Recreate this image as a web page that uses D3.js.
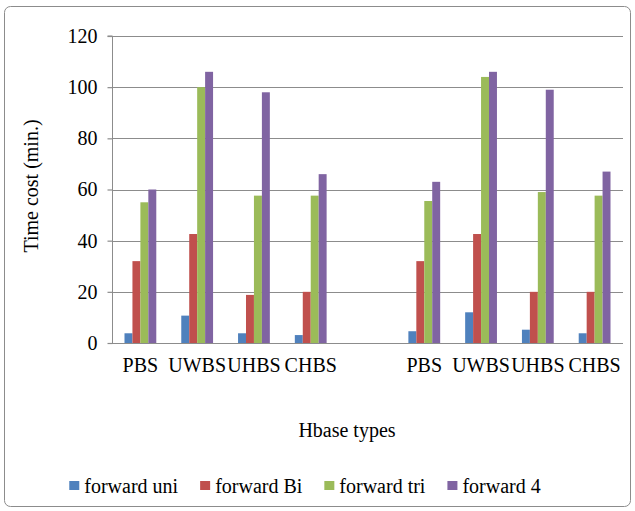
<!DOCTYPE html>
<html><head><meta charset="utf-8">
<script src="https://cdn.jsdelivr.net/npm/d3@7"></script>
<style>body{margin:0;background:#fff;}</style></head>
<body><svg id="c" width="635" height="511"></svg>
<script>
const categories = ["PBS","UWBS","UHBS","CHBS","","PBS","UWBS","UHBS","CHBS"];
const seriesNames = ["forward uni","forward Bi","forward tri","forward 4"];
const forwardUni = [3.8, 10.7, 3.8, 3.1, null, 4.6, 12, 5.2, 3.8];
const forwardBi  = [32, 42.6, 18.8, 20, null, 32, 42.6, 20, 20];
const forwardTri = [55, 100, 57.6, 57.6, null, 55.5, 104, 59, 57.6];
const forward4   = [60, 106, 98, 66, null, 63, 106, 99, 67];
const yTicks = [0,20,40,60,80,100,120];
const colors = ["#4F81BD","#C0504D","#9BBB59","#8064A2"];
const seriesValues = [forwardUni, forwardBi, forwardTri, forward4];

const FONT = '"Liberation Serif"';
const svg = d3.select("#c");
const fs = 20;
svg.append("rect").attr("x",4.5).attr("y",6.5).attr("width",626).attr("height",500)
  .attr("rx",6).attr("fill","#fff").attr("stroke","#8c8c8c").attr("stroke-width",1);

const L=112, R=623, T=36, B=343;
const idx = categories.map((d,i)=>i);
const x0 = d3.scaleBand().domain(idx).range([L,R]).paddingInner(0.44).paddingOuter(0.22);
const x1 = d3.scaleBand().domain(d3.range(seriesNames.length)).range([0,x0.bandwidth()]);
const y = d3.scaleLinear().domain([0,120]).range([B,T]);

// gridlines
svg.append("g").selectAll("line").data(yTicks.filter(t=>t>0)).join("line")
  .attr("x1",L).attr("x2",R).attr("y1",d=>Math.round(y(d))+0.5).attr("y2",d=>Math.round(y(d))+0.5)
  .attr("stroke","#8c8c8c").attr("stroke-width",1.2);

// bars
const g = svg.append("g");
seriesValues.forEach((vals,s)=>{
  g.selectAll(null).data(vals.map((v,i)=>({v,i})).filter(d=>d.v!=null)).join("rect")
    .attr("x",d=>x0(d.i)+x1(s)).attr("width",x1.bandwidth())
    .attr("y",d=>y(d.v)).attr("height",d=>B-y(d.v))
    .attr("fill",colors[s]);
});

// y axis
const yAxis = d3.axisLeft(y).tickValues(yTicks).tickSize(5).tickPadding(10);
const ya = svg.append("g").attr("transform",`translate(${L+0.5},0)`).call(yAxis);
ya.attr("font-family",null);
ya.selectAll("path,line").attr("stroke","#8c8c8c");
ya.select(".domain").attr("d",`M-5,${T}H0V${B}`);
ya.selectAll("text").attr("font-size",fs).style("font-family",FONT).attr("fill","#000");
ya.selectAll(".tick line").attr("stroke-width",1.2);

// x axis
const xAxis = d3.axisBottom(x0).tickFormat(i=>categories[i]).tickSize(0).tickPadding(14);
const xa = svg.append("g").attr("transform",`translate(0,${B+0.5})`).call(xAxis);
xa.attr("font-family",null);
xa.select(".domain").attr("stroke","#8c8c8c").attr("stroke-width",1.2).attr("d",`M${L},0H${R}`);
xa.selectAll("text").attr("font-size",fs).style("font-family",FONT).attr("fill","#000");

// titles
svg.append("text").attr("transform","translate(38,186) rotate(-90)").attr("text-anchor","middle")
  .attr("font-size",fs).style("font-family",FONT).text("Time cost (min.)");
svg.append("text").attr("x",347).attr("y",437).attr("text-anchor","middle")
  .attr("font-size",fs).style("font-family",FONT).text("Hbase types");

// legend
const lg = svg.append("g");
const items = lg.selectAll("g").data(seriesNames).join("g");
items.append("rect").attr("width",10).attr("height",9).attr("y",-12).attr("fill",(d,i)=>colors[i]);
items.append("text").attr("x",15).attr("font-size",fs).style("font-family",FONT).text(d=>d);
let xs=0; const pos=[];
items.each(function(){ pos.push(xs); xs += 15 + this.querySelector("text").getComputedTextLength() + 22; });
const total = xs - 22;
const startX = 305 - total/2;
items.attr("transform",(d,i)=>`translate(${startX+pos[i]},493)`);
</script></body></html>
